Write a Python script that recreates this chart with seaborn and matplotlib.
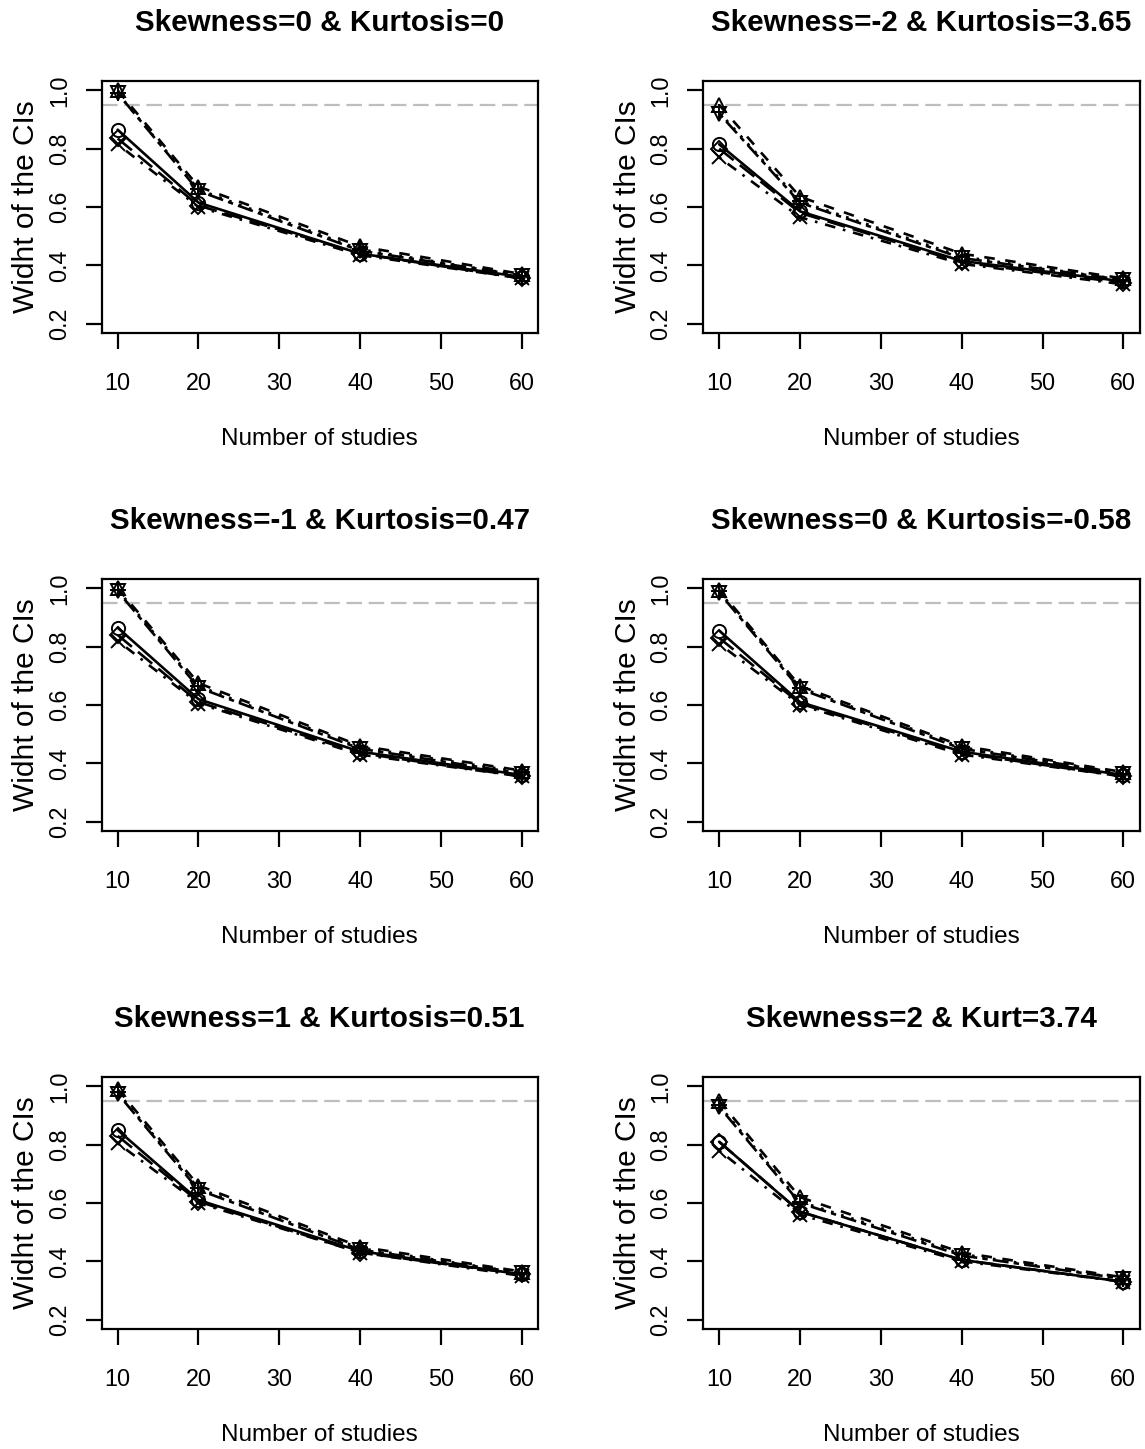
import matplotlib
matplotlib.use("Agg")
import matplotlib.pyplot as plt
import seaborn as sns
import numpy as np

sns.set_style("white")
plt.rcParams['font.family'] = ['Liberation Sans', 'DejaVu Sans']

# ---------------- data ----------------
n_studies = [10, 20, 40, 60]

titles = [
    "Skewness=0 & Kurtosis=0",
    "Skewness=-2 & Kurtosis=3.65",
    "Skewness=-1 & Kurtosis=0.47",
    "Skewness=0 & Kurtosis=-0.58",
    "Skewness=1 & Kurtosis=0.51",
    "Skewness=2 & Kurt=3.74",
]

# one list per method, one row per panel (values at n = 10, 20, 40, 60)
method1_circle = [
    [0.865, 0.615, 0.440, 0.360],
    [0.815, 0.585, 0.415, 0.345],
    [0.865, 0.620, 0.440, 0.360],
    [0.855, 0.610, 0.440, 0.360],
    [0.850, 0.610, 0.435, 0.355],
    [0.810, 0.570, 0.405, 0.330],
]
method2_triangle = [
    [1.000, 0.670, 0.465, 0.370],
    [0.950, 0.635, 0.440, 0.355],
    [1.000, 0.675, 0.460, 0.375],
    [0.995, 0.665, 0.460, 0.370],
    [0.990, 0.660, 0.450, 0.365],
    [0.950, 0.620, 0.430, 0.345],
]
method3_plus = [
    [0.990, 0.660, 0.455, 0.365],
    [0.925, 0.620, 0.430, 0.350],
    [0.995, 0.665, 0.455, 0.370],
    [0.990, 0.660, 0.455, 0.365],
    [0.980, 0.650, 0.445, 0.360],
    [0.935, 0.605, 0.425, 0.340],
]
method4_cross = [
    [0.815, 0.600, 0.435, 0.355],
    [0.770, 0.565, 0.405, 0.335],
    [0.820, 0.605, 0.430, 0.355],
    [0.810, 0.600, 0.430, 0.355],
    [0.805, 0.600, 0.430, 0.350],
    [0.780, 0.560, 0.400, 0.330],
]
method5_diamond = [
    [0.835, 0.605, 0.440, 0.355],
    [0.800, 0.580, 0.410, 0.340],
    [0.840, 0.610, 0.435, 0.355],
    [0.830, 0.605, 0.435, 0.355],
    [0.830, 0.605, 0.430, 0.355],
    [0.810, 0.570, 0.405, 0.330],
]
method6_invtriangle = [
    [0.990, 0.655, 0.450, 0.365],
    [0.920, 0.615, 0.425, 0.350],
    [0.990, 0.660, 0.450, 0.365],
    [0.985, 0.655, 0.450, 0.365],
    [0.975, 0.645, 0.440, 0.360],
    [0.930, 0.600, 0.420, 0.340],
]
nominal_level = 0.95

y_ticks = [0.2, 0.4, 0.6, 0.8, 1.0]
x_ticks = [10, 20, 30, 40, 50, 60]

# ---------------- styles ----------------
methods = [
    (method1_circle, 'o', '-', 9.5),
    (method2_triangle, '^', (0, (4, 4)), 10.5),
    (method3_plus, '+', (0, (1, 3)), 11),
    (method4_cross, 'x', (0, (1, 3, 4, 3)), 9.5),
    (method5_diamond, 'D', (0, (7, 3)), 8),
    (method6_invtriangle, 'v', (0, (2, 2, 6, 2)), 10.5),
]

W, H = 1145, 1449
fig = plt.figure(figsize=(W / 100, H / 100), dpi=100)

col_left = [101.5, 703.0]
row_top = [81.0, 579.0, 1077.0]
ax_w, ax_h = 436.5, 252.0

for i, title in enumerate(titles):
    r, c = divmod(i, 2)
    l, t = col_left[c], row_top[r]
    ax = fig.add_axes([l / W, 1 - (t + ax_h) / H, ax_w / W, ax_h / H])

    ax.axhline(nominal_level, color='#BEBEBE', lw=1.6, linestyle=(0, (7, 3)), zorder=1)

    for vals, mk, ls, ms in methods:
        sns.lineplot(x=n_studies, y=vals[i], ax=ax, color='k', marker=mk,
                     markersize=ms, mfc='none', mec='k', mew=1.4,
                     linestyle=ls, lw=1.9, errorbar=None, legend=False, zorder=3)

    ax.set_xlim(8, 62)
    ax.set_ylim(0.168, 1.032)
    ax.set_xticks(x_ticks)
    ax.set_xticklabels([str(v) for v in x_ticks])
    ax.set_yticks(y_ticks)
    ax.set_yticklabels([f"{v:.1f}" for v in y_ticks], rotation=90, va='center')

    for sp in ax.spines.values():
        sp.set_visible(True)
        sp.set_color('k')
        sp.set_linewidth(1.6)

    ax.tick_params(axis='both', which='major', direction='out', length=11.5,
                   width=1.6, color='k', labelsize=16.8, labelcolor='k',
                   bottom=True, left=True)
    ax.tick_params(axis='x', pad=16.5)
    ax.tick_params(axis='y', pad=10.5)

    ax.set_xlabel("Number of studies", fontsize=17.5, color='k')
    ax.xaxis.label.set_verticalalignment('center')
    ax.xaxis.set_label_coords(0.5, -(439 - 333) / ax_h)
    ax.set_ylabel("Widht of the CIs", fontsize=21.5, color='k')
    ax.yaxis.label.set_verticalalignment('center')
    ax.yaxis.set_label_coords((26 - 101.5) / ax_w, 0.5)

    ax.set_title(title, fontsize=21.3, fontweight='bold', color='k',
                 y=1 + (81 - 23) / ax_h, pad=0, va='center')

fig.savefig("out.png", dpi=100, facecolor='white')
